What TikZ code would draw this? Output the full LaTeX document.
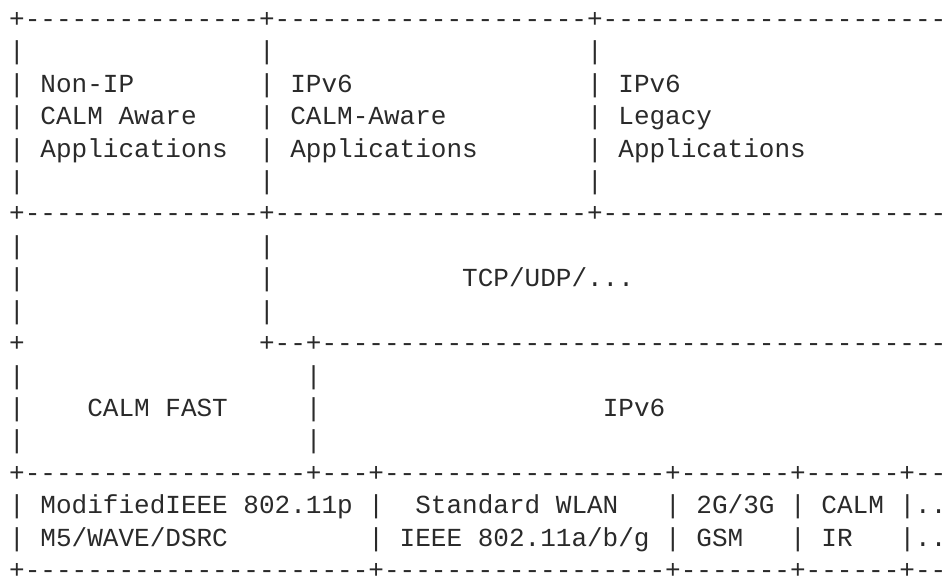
\documentclass[tikz,border=0pt]{standalone}
\usepackage{fontspec}
\setmonofont{Liberation Mono}
\definecolor{ink}{HTML}{2A2A2A}
\tikzset{asc/.style={anchor=base west, inner sep=0pt, outer sep=0pt, text=ink,
  font=\ttfamily\fontsize{26.03}{30}\selectfont}}
% row, column, text
\newcommand\R[3]{\node[asc] (n#1-#2) at ({9.2+#2*15.62},{27.4+#1*32.43}) {#3};}
\newcommand\Pipes[2]{\foreach \c in {#2} {\node[asc] (p#1-\c) at ({9.2+\c*15.62},{27.4+#1*32.43}) {|};}}
\begin{document}
\begin{tikzpicture}[x=1pt,y=-1pt]
\useasboundingbox (0,0) rectangle (950,577);
\clip (0,0) rectangle (950,577);
% row 0
\R{0}{0}{+---------------+--------------------+-----------------------}
\Pipes{1}{0,16,37}
\Pipes{2}{0,16,37}
\R{2}{2}{Non-IP}\R{2}{18}{IPv6}\R{2}{39}{IPv6}
\Pipes{3}{0,16,37}
\R{3}{2}{CALM Aware}\R{3}{18}{CALM-Aware}\R{3}{39}{Legacy}
\Pipes{4}{0,16,37}
\R{4}{2}{Applications}\R{4}{18}{Applications}\R{4}{39}{Applications}
\Pipes{5}{0,16,37}
\R{6}{0}{+---------------+--------------------+-----------------------}
\Pipes{7}{0,16}
\Pipes{8}{0,16}
\R{8}{29}{TCP/UDP/...}
\Pipes{9}{0,16}
\R{10}{0}{+}
\R{10}{16}{+--+-----------------------------------------}
\Pipes{11}{0,19}
\Pipes{12}{0,19}
\R{12}{5}{CALM FAST}\R{12}{38}{IPv6}
\Pipes{13}{0,19}
\R{14}{0}{+------------------+---+------------------+-------+------+---}
\Pipes{15}{0,23,42,50,57}
\R{15}{2}{ModifiedIEEE 802.11p}\R{15}{26}{Standard WLAN}\R{15}{44}{2G/3G}\R{15}{52}{CALM}\R{15}{58}{..}
\Pipes{16}{0,23,42,50,57}
\R{16}{2}{M5/WAVE/DSRC}\R{16}{25}{IEEE 802.11a/b/g}\R{16}{44}{GSM}\R{16}{52}{IR}\R{16}{58}{..}
\R{17}{0}{+----------------------+------------------+-------+------+---}
\end{tikzpicture}
\end{document}
